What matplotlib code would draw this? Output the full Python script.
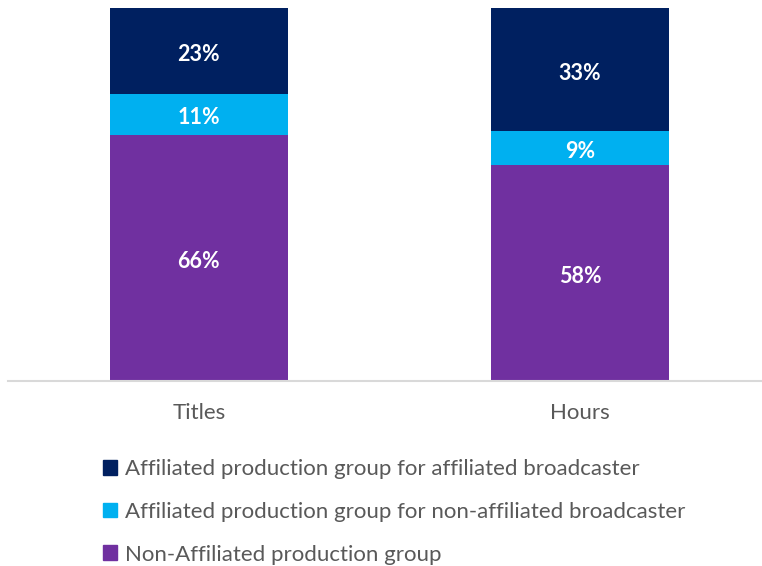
import matplotlib.pyplot as plt
from matplotlib.patches import Patch

plt.rcParams['font.family'] = ['Lato', 'DejaVu Sans']

categorias = ["Titles", "Hours"]
series = [
    "Non-Affiliated production group",
    "Affiliated production group for non-affiliated broadcaster",
    "Affiliated production group for affiliated broadcaster",
]
valores = [
    [66, 58],
    [11, 9],
    [23, 33],
]
colores = ["#7030A0", "#00B0F0", "#002060"]

fig = plt.figure(figsize=(7.62, 5.66), dpi=100)
ax = fig.add_axes([8 / 762, 185 / 566, 754 / 762, 373 / 566])

x = [0, 1]
ancho = 0.467
base = [0, 0]
for nombre, vals, col in zip(series, valores, colores):
    barras = ax.bar(x, vals, ancho, bottom=base, color=col, label=nombre)
    for b, v, b0 in zip(barras, vals, base):
        ax.annotate(f"{v}%", (b.get_x() + b.get_width() / 2, b0 + v / 2),
                    xytext=(0, -2.5), textcoords="offset points",
                    ha="center", va="center", color="white", fontsize=15.5, fontweight="bold")
    base = [a + v for a, v in zip(base, vals)]

ax.set_xlim(-0.501, 1.478)
ax.set_ylim(0, 100)
ax.set_xticks(x)
ax.set_xticklabels(categorias, fontsize=16, color="#595959")
ax.tick_params(axis="x", length=0, pad=15.5)
ax.set_yticks([])
for lado in ["top", "right", "left"]:
    ax.spines[lado].set_visible(False)
ax.spines["bottom"].set_color("#D9D9D9")
ax.spines["bottom"].set_linewidth(1.5)

handles = [Patch(color=colores[i]) for i in [2, 1, 0]]
labels = [series[i] for i in [2, 1, 0]]
fig.legend(handles, labels, loc="upper left", bbox_to_anchor=(94 / 762, 1 - 450 / 566),
           frameon=False, fontsize=16, labelcolor="#595959", handlelength=0.65,
           handleheight=0.65, handletextpad=0.35, labelspacing=1.03, borderaxespad=0)

fig.savefig("out.png", dpi=100)
